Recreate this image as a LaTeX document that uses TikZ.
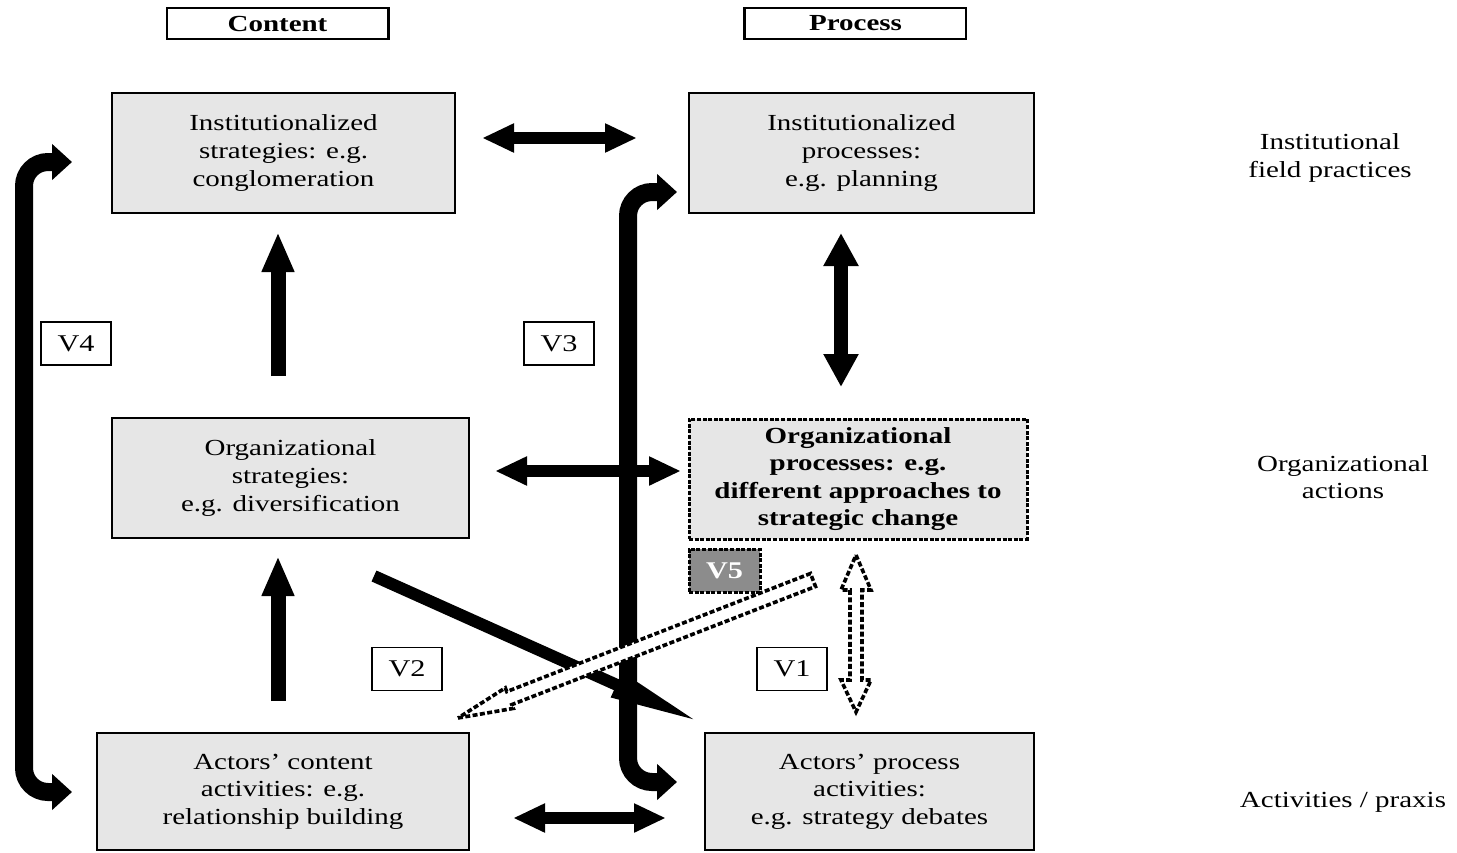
\documentclass[tikz,border=0pt]{standalone}
\usepackage{fontspec}
\setmainfont[FakeStretch=1.26]{Liberation Serif}
\usetikzlibrary{arrows.meta,calc}
\definecolor{boxgray}{HTML}{E6E6E6}
\definecolor{vgray}{HTML}{8C8C8C}
\begin{document}
\begin{tikzpicture}[x=0.5pt,y=-0.5pt,
  every node/.style={font=\fontsize{11.5pt}{13.8pt}\selectfont, inner sep=0pt, align=center},
  box/.style={draw=black, line width=1pt, fill=boxgray},
  dashbox/.style={draw=black, line width=1.5pt, dash pattern=on 2pt off 0.8pt, fill=boxgray},
  head/.style={draw=black, line width=0.8pt, fill=white, minimum width=110.5pt, minimum height=15.5pt, font=\fontsize{11.5pt}{13.8pt}\selectfont\bfseries},
  vbox/.style={draw=black, line width=0.9pt, fill=white, minimum width=35pt, minimum height=21.5pt, font=\fontsize{12pt}{14pt}\selectfont},
  side/.style={font=\fontsize{11.5pt}{13.8pt}\selectfont},
  dbl/.style={line width=6pt, arrows={Triangle[width=13.5pt,length=16pt]-Triangle[width=13.5pt,length=16pt]}},
  dblv/.style={line width=7pt, arrows={Triangle[width=16.5pt,length=16.5pt]-Triangle[width=16.5pt,length=16.5pt]}},
  upar/.style={line width=7.5pt, arrows={-Triangle[width=15pt,length=20pt]}},
  bracketarrow/.style={line width=9pt, rounded corners=12pt, arrows={Triangle[width=17.5pt,length=10pt]-Triangle[width=17.5pt,length=10pt]}},
  hollow/.style={draw=black, fill=white, line width=1.8pt, dash pattern=on 2.5pt off 1.2pt}
]
\useasboundingbox (0,0) rectangle (1457,852);

% column headers
\node[head] (content) at (277.5,23.5) {Content};
\draw[line width=1.5pt] (content.north east) -- (content.south east);
\node[head] (process) at (855.5,23.5) {Process};
\draw[line width=1.5pt] (process.north west) -- (process.south west);

% main boxes
\node[box, minimum width=171.5pt, minimum height=60pt] (A) at (283.5,153)
  {Institutionalized\\strategies: e.g.\\conglomeration};
\node[box, minimum width=172.5pt, minimum height=60pt] (B) at (861.5,153)
  {Institutionalized\\processes:\\e.g. planning};
\node[box, minimum width=178.5pt, minimum height=60pt] (C) at (290.5,478)
  {Organizational\\strategies:\\e.g. diversification};
\node[dashbox, minimum width=169pt, minimum height=60pt, font=\fontsize{11.5pt}{13.8pt}\selectfont\bfseries] (D) at (858,479)
  {Organizational\\processes: e.g.\\different approaches to\\strategic change};
\node[box, minimum width=186pt, minimum height=58.5pt] (E) at (283,791.5)
  {Actors' content\\activities: e.g.\\relationship building};
\node[box, minimum width=164.5pt, minimum height=58.5pt] (F) at (869.5,791.5)
  {Actors' process\\activities:\\e.g. strategy debates};

% side labels
\node[side] (lev1) at (1330,158) {Institutional\\field practices};
\node[side] (lev2) at (1343,477) {Organizational\\actions};
\node[side] (lev3) at (1343,802) {Activities / praxis};

% coordinates for arrow ends
\coordinate (ab1) at (482,138); \coordinate (ab2) at (637,138);
\coordinate (bd1) at (841,233); \coordinate (bd2) at (841,387);
\coordinate (cd1) at (495,471); \coordinate (cd2) at (681,471);
\coordinate (ef1) at (513,818); \coordinate (ef2) at (666,818);
\coordinate (ca1) at (278,376); \coordinate (ca2) at (278,232);
\coordinate (ec1) at (278,701); \coordinate (ec2) at (278,556);
\coordinate (v4t) at (72,162); \coordinate (v4b) at (72,792); \coordinate (v4x) at (24,792);
\coordinate (v3t) at (677,192); \coordinate (v3b) at (677,782); \coordinate (v3x) at (628,782);
\coordinate (cf1) at (374,576); \coordinate (cf2) at (704,724);

% solid block arrows
\draw[dbl] (ab1) -- (ab2);
\draw[dblv] (bd1) -- (bd2);
\draw[dbl] (cd1) -- (cd2);
\draw[dbl] (ef1) -- (ef2);
\draw[upar] (ca1) -- (ca2);
\draw[upar] (ec1) -- (ec2);

% bracket arrows V4 and V3
\draw[bracketarrow] (v4t) -| (v4x) -- (v4b);
\draw[bracketarrow] (v3t) -| (v3x) -- (v3b);

% diagonal arrow C -> F
\draw[line width=6pt, arrows={-Triangle[width=12pt,length=48pt]}] (cf1) -- (cf2);

% V labels
\node[vbox] (v4) at (76,343.5) {V4};
\node[vbox] (v3) at (559,343.5) {V3};
\node[vbox] (v2) at (407,669) {V2};
\node[vbox] (v1) at (792,669) {V1};
\node[draw=black, line width=1.5pt, dash pattern=on 2pt off 0.8pt, fill=vgray, text=white,
  minimum width=35.5pt, minimum height=21.5pt, font=\fontsize{12pt}{14pt}\selectfont\bfseries] (v5) at (724.5,570.5) {V5};

% hollow dashed arrows
\draw[hollow] (458,718) -- (513.3,708.4) -- (511.8,704.6) -- (815.5,586.5)
  -- (810.5,573.5) -- (506.8,691.6) -- (505.3,687.9) -- cycle;
\draw[hollow] (856,555) -- (871,590) -- (862,590) -- (862,680) -- (871,680)
  -- (856,712) -- (841,680) -- (850,680) -- (850,590) -- (841,590) -- cycle;
\end{tikzpicture}
\end{document}
